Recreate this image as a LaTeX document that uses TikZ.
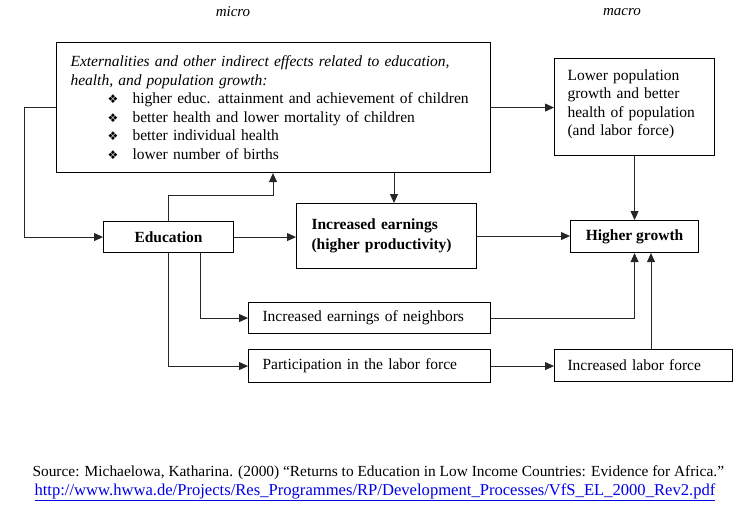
\documentclass[tikz,border=0pt]{standalone}
\usepackage{fontspec}
\setmainfont{Liberation Serif}
\newfontfamily\symfont{DejaVu Sans}
\usetikzlibrary{arrows.meta,calc}
\definecolor{linkblue}{RGB}{0,0,230}
\newcommand{\bul}{\makebox[25pt][l]{{\symfont\fontsize{12}{12}\selectfont ❖}}}
\begin{document}
\begin{tikzpicture}[x=1pt,y=-1pt,
  box/.style={draw, line width=1.1pt, anchor=north west, inner sep=0pt},
  arr/.style={-{Triangle[length=9pt,width=8pt]}, line width=0.9pt, draw=black!85},
  txt/.style={font=\fontsize{15.5}{18.5}\selectfont},
  head/.style={font=\fontsize{15}{18}\selectfont\itshape}]
\useasboundingbox (0,0) rectangle (754,509);

\node[head] (micro) at (233,12) {micro};
\node[head] (macro) at (622,12) {macro};

\node[box, txt, minimum width=434, minimum height=130, text width=406, inner xsep=14, align=left] (ext) at (56,42)
{\textit{Externalities and other indirect effects related to education,}\\
 \textit{health, and population growth:}\\
 \hspace*{37pt}\bul higher educ. attainment and achievement of children\\
 \hspace*{37pt}\bul better health and lower mortality of children\\
 \hspace*{37pt}\bul better individual health\\
 \hspace*{37pt}\bul lower number of births};

\node[box, txt, minimum width=160, minimum height=97, text width=134, inner xsep=13, align=left] (rb) at (554,58)
{\raisebox{3pt}[\height][\depth]{\begin{tabular}{@{}l@{}}Lower population\\ growth and better\\ health of population\\ (and labor force)\end{tabular}}};

\node[box, txt, minimum width=130, minimum height=31, font=\fontsize{15.5}{18.5}\selectfont\bfseries] (edu) at (103,221) {Education};

\node[box, txt, minimum width=177, minimum height=65, text width=150, inner xsep=15, align=left, font=\fontsize{15.5}{19.5}\selectfont\bfseries] (ie) at (296,203)
{Increased earnings\\ (higher productivity)\\[9pt]};

\node[box, txt, minimum width=128, minimum height=32, font=\fontsize{15.5}{18.5}\selectfont\bfseries] (hg) at (570,220) {Higher growth};

\node[box, txt, minimum width=242, minimum height=31, text width=214, inner xsep=14, align=left] (nb) at (248,302) {Increased earnings of neighbors};

\node[box, txt, minimum width=242, minimum height=33, text width=214, inner xsep=14, align=left] (pl) at (248,349) {Participation in the labor force};

\node[box, txt, minimum width=178, minimum height=32, text width=152, inner xsep=13, align=left] (ilf) at (554,349) {Increased labor force};

% connectors
\draw[arr] (ext.east) -- (ext.east -| rb.west);
\draw[arr] (ext.west) -- ++(-32,0) |- (edu.west);
\draw[arr] (edu.north) -- ++(0,-26) -| (ext.south -| 273,0);
\draw[arr] (ext.south -| 394,0) -- (ie.north -| 394,0);
\draw[arr] (edu.east) -- (edu.east -| ie.west);
\draw[arr] (ie.east) -- (ie.east -| hg.west);
\draw[arr] (rb.south) -- (hg.north);
\draw[arr] (edu.south -| 200,0) |- (nb.west);
\draw[arr] (edu.south) |- (pl.west);
\draw[arr] (pl.east) -- (pl.east -| ilf.west);
\draw[arr] (nb.east) -| (hg.south);
\draw[arr] (ilf.north -| 651,0) -- (hg.south -| 651,0);

% source
\node[anchor=west, font=\fontsize{15.4}{17}\selectfont] (src) at (29,473)
{Source: Michaelowa, Katharina. (2000) “Returns to Education in Low Income Countries: Evidence for Africa.”};
\node[anchor=west, font=\fontsize{16.6}{17}\selectfont, text=linkblue] (url) at (31,492)
{\underline{http://www.hwwa.de/Projects/Res\_Programmes/RP/Development\_Processes/VfS\_EL\_2000\_Rev2.pdf}};
\end{tikzpicture}
\end{document}
